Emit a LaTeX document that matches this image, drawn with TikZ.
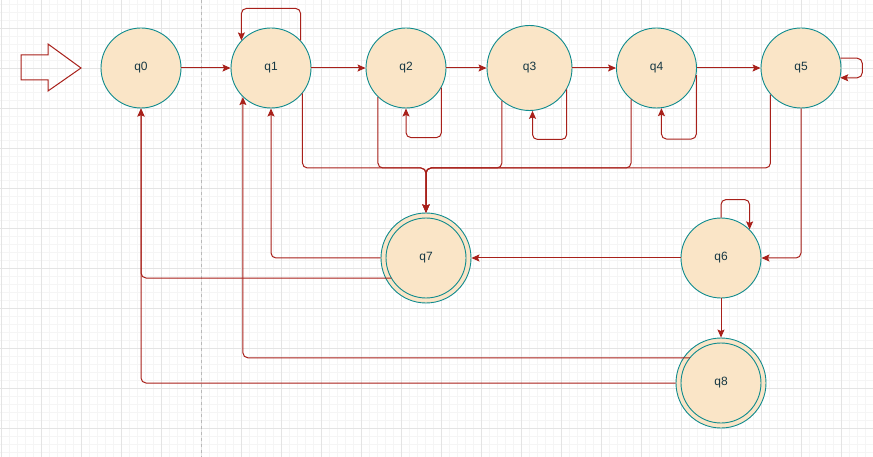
\documentclass[tikz,border=0pt]{standalone}
\usepackage{fontspec}
\setmainfont{Liberation Sans}
\usepackage{xcolor}
\usepackage{tikz}
\usetikzlibrary{arrows.meta, calc}
\definecolor{statefill}{RGB}{250,229,199}
\definecolor{stateborder}{RGB}{15,139,141}
\definecolor{edgered}{RGB}{168,32,26}
\definecolor{labeltext}{RGB}{20,54,66}
\definecolor{gridminor}{RGB}{245,245,245}
\definecolor{gridmajor}{RGB}{228,228,228}
\tikzset{
    state/.style={
        circle,
        draw=stateborder,
        fill=statefill,
        line width=0.9pt,
        minimum size=80pt,
        inner sep=0pt,
        text=labeltext,
        font=\fontsize{12}{14}\selectfont
    },
    accept/.style={
        state,
        minimum size=90pt,
        path picture={\draw[stateborder, line width=0.9pt] (path picture bounding box.center) circle (40pt);}
    },
    trans/.style={
        -{Stealth[length=8pt, width=7pt, inset=1.5pt]},
        line width=1pt,
        draw=edgered,
        rounded corners=5pt
    }
}

\begin{document}
\begin{tikzpicture}[
    x=1pt, y=1pt,
    gridline/.style={gridminor, line width=0.6pt},
    gridbold/.style={gridmajor, line width=0.6pt},
    startmark/.style={draw=edgered, line width=1pt, line join=miter}
]

\useasboundingbox[fill=white] (0,0) rectangle (873,-457);

% background grid
\foreach \gx in {1,9,...,873} \draw[gridline] (\gx,0) -- (\gx,-457);
\foreach \gy in {4,12,...,457} \draw[gridline] (0,-\gy) -- (873,-\gy);
\foreach \gx in {1,41,...,873} \draw[gridbold] (\gx,0) -- (\gx,-457);
\foreach \gy in {28,68,...,457} \draw[gridbold] (0,-\gy) -- (873,-\gy);
\draw[gray!55, line width=0.6pt, dash pattern=on 3pt off 3pt] (201,0) -- (201,-457);

\draw[startmark] (21,-55) -- (48,-55) -- (48,-44) -- (81,-68) -- (48,-91)
    -- (48,-80) -- (21,-80) -- cycle;

\node[state] (q0) at (141,-68) {q0};
\node[state] (q1) at (271,-68) {q1};
\node[state] (q2) at (406,-68) {q2};
\node[state, minimum size=85pt] (q3) at (529.5,-68) {q3};
\node[state] (q4) at (656.5,-68) {q4};
\node[state] (q5) at (801,-68) {q5};
\node[state] (q6) at (721,-258) {q6};
\node[accept] (q7) at (426,-258) {q7};
\node[accept] (q8) at (721,-383) {q8};

\coordinate (merge) at (426,-168);

\draw[trans] (q0.east) -- (q1.west);
\draw[trans] (q1.east) -- (q2.west);
\draw[trans] (q2.east) -- (q3.west);
\draw[trans] (q3.east) -- (q4.west);
\draw[trans] (q4.east) -- (q5.west);

% self loops
\draw[trans] (q1.43) -- ++(0,32) -| (q1.137);
\draw[trans] (q2.-29) -- ++(0,-50) -| (q2.south);
\draw[trans] (q3.-30) -- ++(0,-50) -| (q3.-86);
\draw[trans] (q4.-10) -- ++(0,-64) -| (q4.-83);
\draw[trans] (q5.14) -- ++(22,0) |- (q5.-14);
\draw[trans] (q6.north) -- ++(0,18) -| (q6.45);

\foreach \src/\ang in {q1/-39, q2/-134, q3/-130, q4/-129, q5/-139}
    \draw[trans] (\src.\ang) |- (merge) -- (q7.north);

\draw[trans] (q5.south) |- (q6.east);
\draw[trans] (q6.west) -- (q7.east);
\draw[trans] (q6.south) -- (q8.north);
\draw[trans] (q7.west) -| (q1.south);
\draw[trans] ($(q7.center)+(-150:40)$) -| (q0.south);
\draw[trans] ($(q8.center)+(141:40)$) -| (q1.-134);
\draw[trans] (q8.west) -| (q0.south);

\end{tikzpicture}
\end{document}
